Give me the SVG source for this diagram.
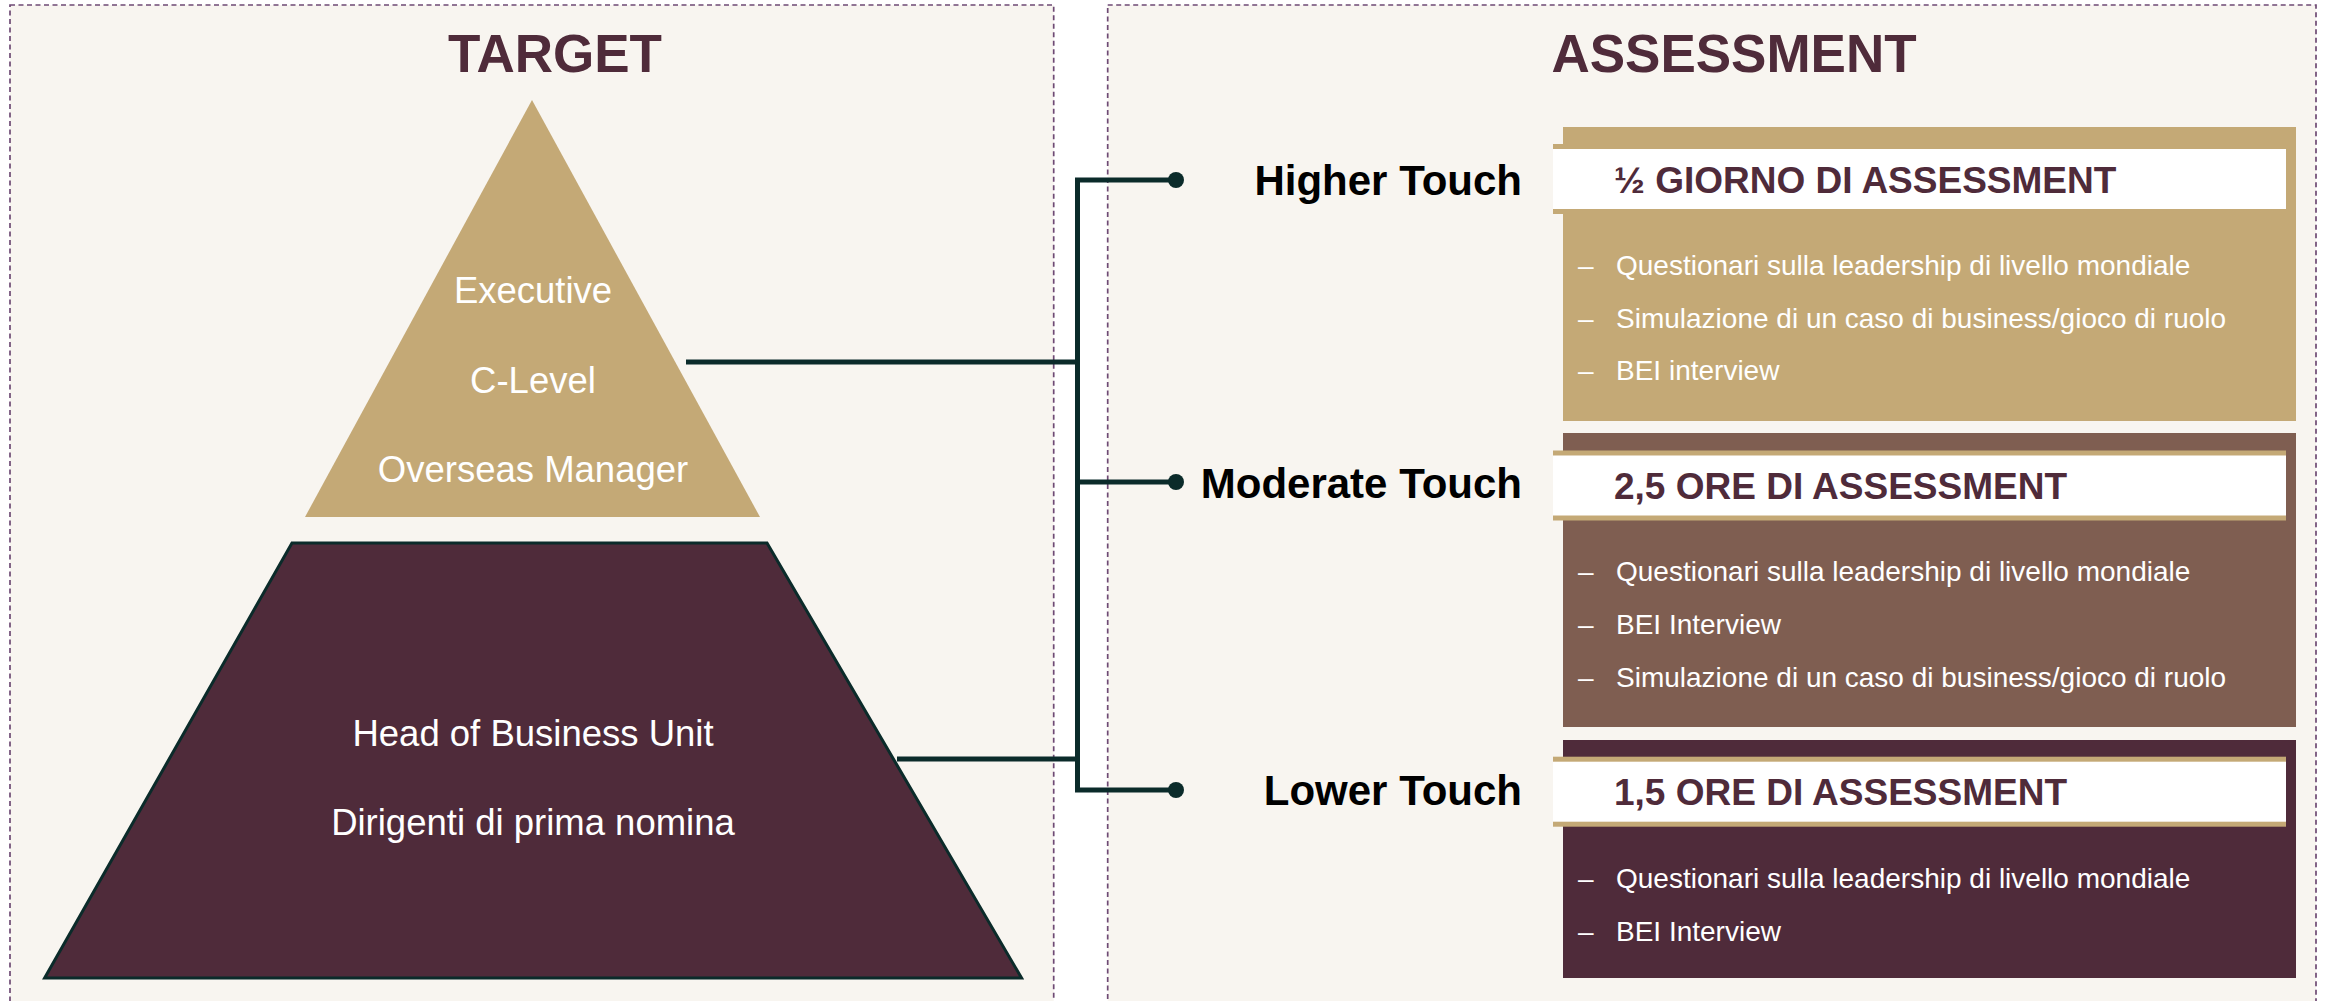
<svg xmlns="http://www.w3.org/2000/svg" width="2330" height="1001" viewBox="0 0 2330 1001">
<style>
.panel{fill:#F8F5F0;stroke:#6E4A74;stroke-width:1.7;stroke-dasharray:5 3.5}
.title{font-family:"Liberation Sans",Arial,sans-serif;font-weight:bold;font-size:53px;fill:#4F2B3A;text-anchor:middle}
.ptext{font-family:"Liberation Sans",Arial,sans-serif;font-size:36.5px;fill:#FFFFFF;text-anchor:middle}
.touch{font-family:"Liberation Sans",Arial,sans-serif;font-weight:bold;font-size:42px;fill:#000000;text-anchor:end}
.head{font-family:"Liberation Sans",Arial,sans-serif;font-weight:bold;font-size:37px;fill:#4F2B3A}
.bul{font-family:"Liberation Sans",Arial,sans-serif;font-size:28px;fill:#FFFFFF}
.conn{fill:none;stroke:#0B2B2A;stroke-width:5}
.dot{fill:#0B2B2A}
.tanline{fill:#C4A976}
.white{fill:#FFFFFF}
</style>
<rect x="0" y="0" width="2330" height="1001" fill="#FFFFFF"/>
<g id="panel-target">
<rect class="panel" x="10" y="5" width="1043.7" height="1010"/>
<text class="title" x="555" y="72">TARGET</text>
</g>
<g id="panel-assessment">
<rect class="panel" x="1107.7" y="5" width="1208.3" height="1010"/>
<text class="title" x="1734" y="72">ASSESSMENT</text>
</g>
<g id="pyramid-top">
<polygon points="532,100 760,517 305,517" fill="#C4A976"/>
<text class="ptext" x="533" y="303">Executive</text>
<text class="ptext" x="533" y="393">C-Level</text>
<text class="ptext" x="533" y="482">Overseas Manager</text>
</g>
<g id="pyramid-bottom">
<polygon points="292,543 767,543 1021.6,978 44.6,978" fill="#4F2B3A" stroke="#0B2B2A" stroke-width="3"/>
<text class="ptext" x="533" y="746">Head of Business Unit</text>
<text class="ptext" x="533" y="835">Dirigenti di prima nomina</text>
</g>
<g id="connectors">
<path class="conn" d="M686,362 H1077.5"/>
<path class="conn" d="M897,759 H1077.5"/>
<path class="conn" d="M1176,180 H1077.5 V790 H1176"/>
<path class="conn" d="M1077.5,482 H1176"/>
<circle class="dot" cx="1176" cy="180" r="8"/>
<circle class="dot" cx="1176" cy="482" r="8"/>
<circle class="dot" cx="1176" cy="790" r="8"/>
</g>
<g id="label-higher">
<text class="touch" x="1522" y="195">Higher Touch</text>
</g>
<g id="label-moderate">
<text class="touch" x="1522" y="498">Moderate Touch</text>
</g>
<g id="label-lower">
<text class="touch" x="1522" y="805">Lower Touch</text>
</g>
<g id="box-higher">
<rect x="1563" y="127" width="733" height="294" fill="#C4A976"/>
<rect class="tanline" x="1553" y="144" width="733" height="70"/>
<rect class="white" x="1553" y="149" width="733" height="60"/>
<text class="head" x="1614" y="192.7">½ GIORNO DI ASSESSMENT</text>
<text class="bul" x="1578" y="275">–</text>
<text class="bul" x="1616" y="275">Questionari sulla leadership di livello mondiale</text>
<text class="bul" x="1578" y="328">–</text>
<text class="bul" x="1616" y="328">Simulazione di un caso di business/gioco di ruolo</text>
<text class="bul" x="1578" y="380">–</text>
<text class="bul" x="1616" y="380">BEI interview</text>
</g>
<g id="box-moderate">
<rect x="1563" y="433" width="733" height="294" fill="#7F5E51"/>
<rect class="tanline" x="1553" y="450.5" width="733" height="70"/>
<rect class="white" x="1553" y="455.5" width="733" height="60"/>
<text class="head" x="1614" y="499">2,5 ORE DI ASSESSMENT</text>
<text class="bul" x="1578" y="581">–</text>
<text class="bul" x="1616" y="581">Questionari sulla leadership di livello mondiale</text>
<text class="bul" x="1578" y="634">–</text>
<text class="bul" x="1616" y="634">BEI Interview</text>
<text class="bul" x="1578" y="686.7">–</text>
<text class="bul" x="1616" y="686.7">Simulazione di un caso di business/gioco di ruolo</text>
</g>
<g id="box-lower">
<rect x="1563" y="740" width="733" height="238" fill="#4F2B3A"/>
<rect class="tanline" x="1553" y="756.7" width="733" height="70"/>
<rect class="white" x="1553" y="761.7" width="733" height="60"/>
<text class="head" x="1614" y="805">1,5 ORE DI ASSESSMENT</text>
<text class="bul" x="1578" y="887.7">–</text>
<text class="bul" x="1616" y="887.7">Questionari sulla leadership di livello mondiale</text>
<text class="bul" x="1578" y="940.7">–</text>
<text class="bul" x="1616" y="940.7">BEI Interview</text>
</g>
</svg>
